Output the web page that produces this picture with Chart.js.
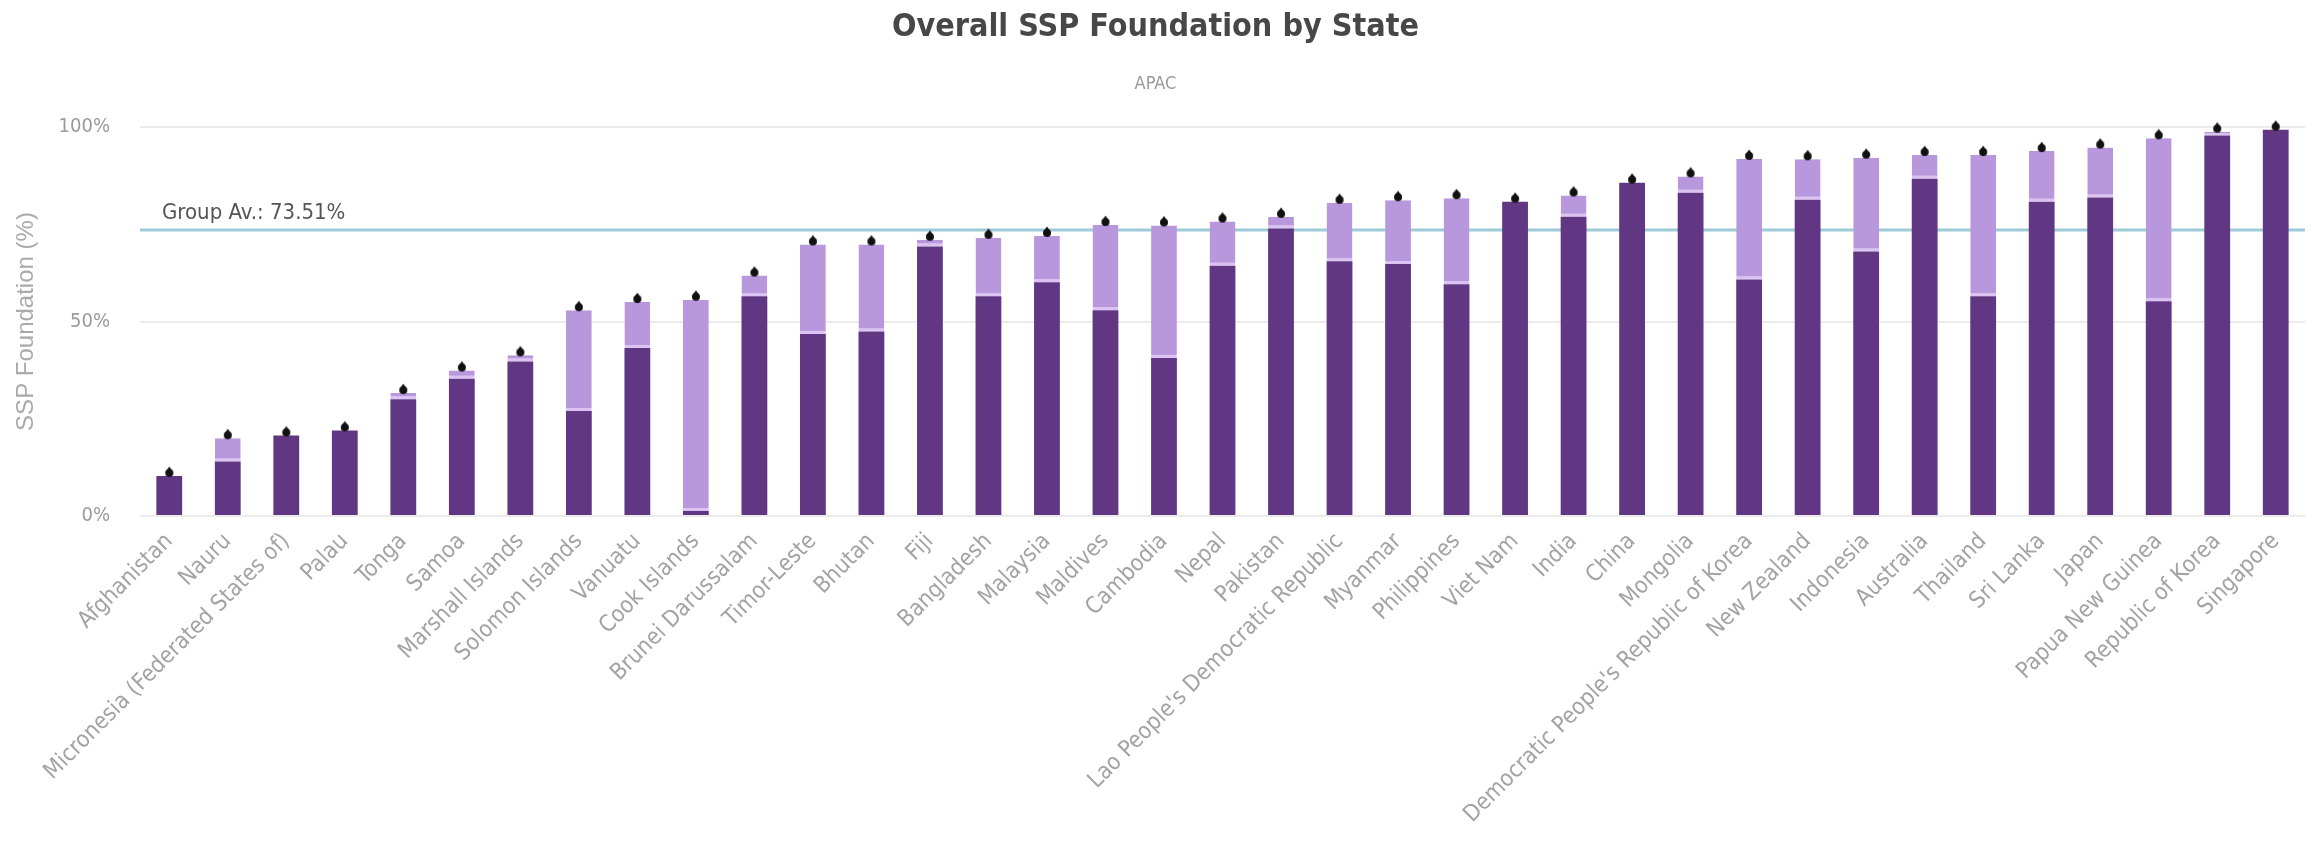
<!DOCTYPE html>
<html>
<head>
<meta charset="utf-8">
<script src="https://cdn.jsdelivr.net/npm/chart.js@4.4.1/dist/chart.umd.min.js"></script>
<style>
html, body { margin: 0; padding: 0; background: #fff; }
#wrap { width: 2312px; height: 857px; }
</style>
</head>
<body>
<div id="wrap"><canvas id="myChart"></canvas></div>
<script>
var states = ["Afghanistan", "Nauru", "Micronesia (Federated States of)", "Palau", "Tonga", "Samoa",
  "Marshall Islands", "Solomon Islands", "Vanuatu", "Cook Islands", "Brunei Darussalam", "Timor-Leste",
  "Bhutan", "Fiji", "Bangladesh", "Malaysia", "Maldives", "Cambodia", "Nepal", "Pakistan",
  "Lao People's Democratic Republic", "Myanmar", "Philippines", "Viet Nam", "India", "China", "Mongolia",
  "Democratic People's Republic of Korea", "New Zealand", "Indonesia", "Australia", "Thailand",
  "Sri Lanka", "Japan", "Papua New Guinea", "Republic of Korea", "Singapore"];

// dark part of each bar
var foundation = [10.3, 14.0, 20.7, 22.0, 30.0, 35.3, 39.7, 27.0, 43.2, 1.3,
  56.5, 46.8, 47.4, 69.3, 56.5, 60.1, 52.9, 40.6, 64.3, 73.9,
  65.5, 64.8, 59.6, 80.8, 76.9, 85.7, 83.1, 60.8, 81.3, 68.0,
  86.7, 56.5, 80.8, 81.9, 55.2, 97.8, 99.3];

// top of each bar (where the black pin sits)
var overall = [10.3, 20.0, 20.7, 22.0, 31.6, 37.4, 41.3, 52.9, 55.0, 55.6,
  61.8, 69.8, 69.8, 71.0, 71.5, 72.0, 74.8, 74.7, 75.7, 76.9,
  80.5, 81.2, 81.7, 80.8, 82.4, 85.7, 87.3, 91.8, 91.7, 92.1,
  92.8, 92.8, 93.8, 94.7, 97.1, 98.8, 99.3];

var groupAverage = 73.51;
var yTicks = [0, 50, 100];

var extra = overall.map(function (v, i) { return +(v - foundation[i]).toFixed(1); });

var narrow = "'Liberation Sans Narrow', 'DejaVu Sans Condensed', Roboto, sans-serif";

// small black pin, drawn a bit above the value point
var pin = document.createElement('canvas');
pin.width = 12;
pin.height = 24;
var pc = pin.getContext('2d');
pc.fillStyle = '#111';
pc.beginPath(); pc.arc(6, 9, 4, 0, Math.PI * 2); pc.fill();
pc.beginPath(); pc.moveTo(3, 7); pc.lineTo(9, 7); pc.lineTo(6, 2.5); pc.closePath(); pc.fill();

var avgLine = {
  id: 'avgLine',
  beforeDatasetsDraw: function (chart) {
    var ctx = chart.ctx, area = chart.chartArea;
    var y = chart.scales.y.getPixelForValue(groupAverage);
    ctx.save();
    ctx.strokeStyle = '#9fcbd9';
    ctx.lineWidth = 3;
    ctx.beginPath();
    ctx.moveTo(area.left, y);
    ctx.lineTo(area.right, y);
    ctx.stroke();
    ctx.fillStyle = '#555';
    ctx.font = '22px ' + narrow;
    ctx.textBaseline = 'bottom';
    ctx.fillText('Group Av.: ' + groupAverage.toFixed(2) + '%', area.left + 22, y - 6);
    ctx.restore();
  }
};

var ctx = document.getElementById('myChart');
var chart = new Chart(ctx, {
  type: 'bar',
  data: {
    labels: states,
    datasets: [
      {
        type: 'line', label: 'Overall', data: overall, showLine: false,
        pointStyle: pin, pointRadius: 6, pointHoverRadius: 6,
        backgroundColor: '#111', borderColor: '#111',
        stack: 'pin', order: 0, clip: false
      },
      {
        label: 'Foundation', data: foundation, backgroundColor: '#613783',
        stack: 'bars', order: 1, barPercentage: 0.9, categoryPercentage: 0.49
      },
      {
        label: 'Remaining', data: extra, backgroundColor: '#b897dc',
        borderColor: '#dcc3f3', borderWidth: { top: 0, right: 0, bottom: 3, left: 0 },
        borderSkipped: false,
        stack: 'bars', order: 2, barPercentage: 0.9, categoryPercentage: 0.49
      }
    ]
  },
  options: {
    responsive: true,
    maintainAspectRatio: false,
    devicePixelRatio: 1,
    animation: false,
    layout: { padding: { left: 6, right: 7, top: 0, bottom: 0 } },
    plugins: {
      legend: { display: false },
      tooltip: { enabled: false },
      title: {
        display: true, text: 'Overall SSP Foundation by State', color: '#474747',
        font: { family: narrow, size: 32, weight: 'bold' },
        padding: { top: 8, bottom: 0 }
      },
      subtitle: {
        display: true, text: 'APAC', color: '#9a9a9a',
        font: { family: narrow, size: 18 },
        padding: { top: 27, bottom: 32 }
      }
    },
    scales: {
      x: {
        stacked: true,
        grid: { display: false },
        border: { display: false },
        ticks: {
          autoSkip: false, maxRotation: 45, minRotation: 45, padding: 4,
          color: '#a3a3a3', font: { family: narrow, size: 23 }
        },
        afterFit: function (axis) { axis.height = 341; }
      },
      y: {
        stacked: true,
        min: 0, max: 100,
        afterBuildTicks: function (axis) {
          axis.ticks = yTicks.map(function (v) { return { value: v }; });
        },
        grid: { color: '#ebebeb', lineWidth: 2, drawTicks: false },
        border: { display: false },
        ticks: {
          padding: 30, color: '#9b9b9b',
          font: { family: narrow, size: 20 },
          callback: function (v) { return v + '%'; }
        },
        title: {
          display: true, text: 'SSP Foundation (%)', color: '#aaa',
          font: { family: "'Liberation Sans', Arial, sans-serif", size: 24 },
          padding: { top: 6, bottom: 4 }
        },
        afterFit: function (axis) { axis.width = 134; }
      }
    }
  },
  plugins: [avgLine]
});
</script>
</body>
</html>
